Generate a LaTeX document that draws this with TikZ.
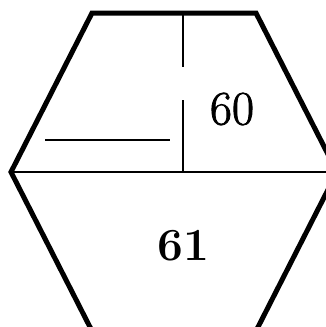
\documentclass[tikz,border=0pt]{standalone}
\usepackage{fontspec}
\setmainfont{Latin Modern Roman}
\newfontfamily\medfont[FakeBold=1.6]{Latin Modern Roman}
\begin{document}
\begin{tikzpicture}[x=1pt,y=-1pt,
  outline/.style={line width=5pt,line join=miter},
  divider/.style={line width=1.8pt},
  thinrule/.style={line width=1.4pt},
  lbl/.style={inner sep=0pt,anchor=center}]
\useasboundingbox (0,0) rectangle (326,327);
\begin{scope}
\clip (0,0) rectangle (326,327);
\coordinate (tl) at (92,13);
\coordinate (tr) at (256,13);
\coordinate (r) at (337,172);
\coordinate (br) at (256,331);
\coordinate (bl) at (92,331);
\coordinate (l) at (11,172);
\draw[outline] (tl) -- (tr) -- (r) -- (br) -- (bl) -- (l) -- cycle;
\coordinate (m) at (183,172);
\coordinate (mr) at (330,172);
\draw[divider] (l) -- (mr);
\coordinate (vt) at (183,13);
\coordinate (vg1) at (183,67);
\coordinate (vg2) at (183,100);
\draw[thinrule] (vt) -- (vg1);
\draw[thinrule] (vg2) -- (m);
\coordinate (sa) at (45,140);
\coordinate (sb) at (170,140);
\draw[divider] (sa) -- (sb);
\end{scope}
\node[lbl,font=\medfont\fontsize{48}{48}\selectfont] (n60) at (232,109) {60};
\node[lbl,font=\fontsize{46}{46}\selectfont\bfseries] (n61) at (183,246) {61};
\end{tikzpicture}
\end{document}
